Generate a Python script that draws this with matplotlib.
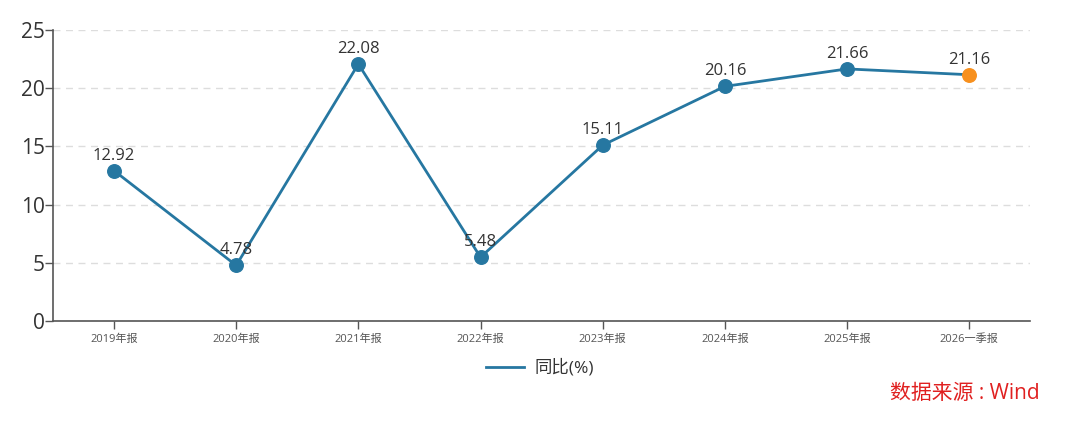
import matplotlib
matplotlib.use("Agg")
import matplotlib.pyplot as plt

plt.rcParams["font.family"] = ["Open Sans", "Noto Sans CJK SC", "DejaVu Sans"]

categories = ["2019年报", "2020年报", "2021年报", "2022年报", "2023年报", "2024年报", "2025年报", "2026一季报"]
yoy_values = [12.92, 4.78, 22.08, 5.48, 15.11, 20.16, 21.66, 21.16]
y_ticks = [0, 5, 10, 15, 20, 25]

LINE_COLOR = "#2677a1"
LAST_COLOR = "#f7901e"
AXIS_COLOR = "#555555"

fig = plt.figure(figsize=(10.8, 4.23), dpi=100)
ax = fig.add_axes([0.049, 0.241, 0.905, 0.688])

x = list(range(len(categories)))
ax.plot(x, yoy_values, color=LINE_COLOR, linewidth=2, label="同比(%)", zorder=3)
ax.scatter(x[:-1], yoy_values[:-1], s=95, color=LINE_COLOR, zorder=4)
ax.scatter(x[-1:], yoy_values[-1:], s=95, color=LAST_COLOR, zorder=4)

for xi, v in zip(x, yoy_values):
    ax.annotate(f"{v:.2f}", xy=(xi, v), xytext=(0, 5), textcoords="offset points",
                ha="center", va="bottom", fontsize=12, color="#333333", zorder=5)

ax.set_xlim(-0.5, len(categories) - 0.5)
ax.set_ylim(0, 25)
ax.set_yticks(y_ticks)
ax.set_xticks(x)
ax.set_xticklabels(categories, fontsize=8, color="#444444")
ax.tick_params(axis="y", labelsize=15, colors=AXIS_COLOR, labelcolor="#333333", length=6, width=1, pad=0)
ax.tick_params(axis="x", colors=AXIS_COLOR, length=6, width=1, pad=3)

for side in ("top", "right"):
    ax.spines[side].set_visible(False)
for side in ("left", "bottom"):
    ax.spines[side].set_color(AXIS_COLOR)
    ax.spines[side].set_linewidth(1.2)

ax.yaxis.grid(True, color="#dddddd", linestyle=(0, (5, 4)), linewidth=1)
ax.set_axisbelow(True)

fig.legend(handles=[ax.lines[0]], loc="center", bbox_to_anchor=(0.5, 0.13), frameon=False,
           fontsize=12.5, handlelength=2.2, handletextpad=0.6, labelcolor="#333333")
fig.text(0.963, 0.07, "数据来源 : Wind", color="#e02020", fontsize=15, ha="right", va="center")

fig.savefig("out.png", dpi=100)
